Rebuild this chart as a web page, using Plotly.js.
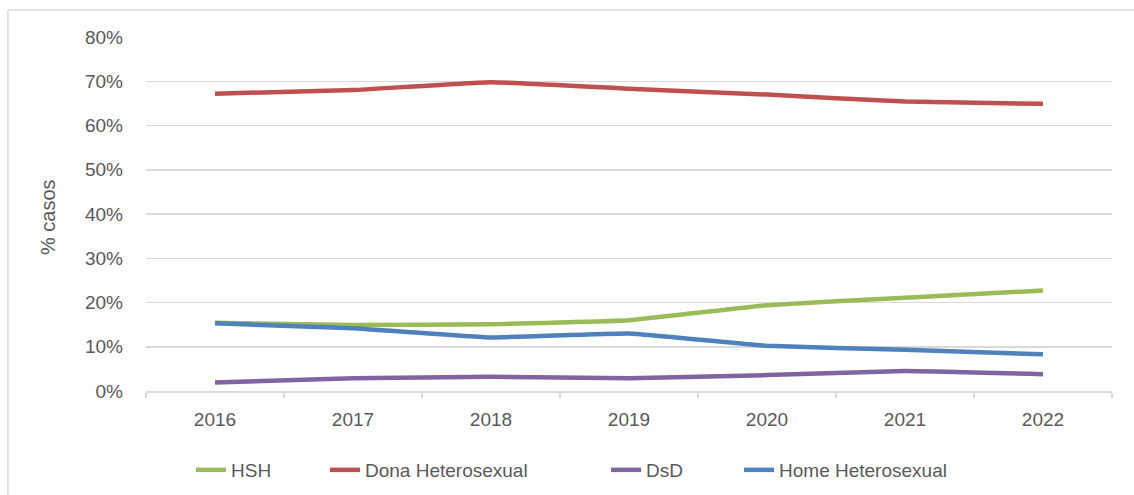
<!DOCTYPE html>
<html>
<head>
<meta charset="utf-8">
<script src="https://cdn.plot.ly/plotly-3.0.1.min.js"></script>
<style>html,body{margin:0;padding:0;background:#fff;} #chart{width:1134px;height:495px;}</style>
</head>
<body>
<div id="chart"></div>
<script>
const years = ['2016','2017','2018','2019','2020','2021','2022'];
const hsh = [15.4, 14.9, 15.1, 16.0, 19.4, 21.1, 22.7];
const donaHetero = [67.2, 68.0, 69.8, 68.3, 67.0, 65.4, 64.9];
const dsd = [1.9, 2.9, 3.2, 2.9, 3.6, 4.5, 3.8];
const homeHetero = [15.3, 14.2, 12.1, 13.0, 10.2, 9.3, 8.3];
const yTicks = [0,10,20,30,40,50,60,70,80];

const mk = (name, y, color, lg) => ({
  type: 'scatter', mode: 'lines', name: name, x: years, y: y, legend: lg,
  line: {color: color, width: 4.5, shape: 'spline', smoothing: 0.3}
});

const data = [
  mk('HSH', hsh, '#9BBB59', 'legend'),
  mk('Dona Heterosexual', donaHetero, '#C0504D', 'legend2'),
  mk('DsD', dsd, '#8064A2', 'legend3'),
  mk('Home Heterosexual', homeHetero, '#4F81BD', 'legend4')
];

const lgFont = {family: 'Liberation Sans, sans-serif', size: 19, color: '#595959'};
const mkLegend = (x) => ({orientation: 'h', x: x, xanchor: 'left', xref: 'paper',
  yref: 'container', y: 0.0505, yanchor: 'middle', font: lgFont, bgcolor: 'rgba(0,0,0,0)'});

const layout = {
  width: 1134, height: 495,
  margin: {l: 146, r: 22, t: 37, b: 104},
  paper_bgcolor: '#fff', plot_bgcolor: '#fff',
  font: {family: 'Liberation Sans, Arial, sans-serif', size: 19, color: '#595959'},
  showlegend: true,
  legend: mkLegend(0.0466),
  legend2: mkLegend(0.1853),
  legend3: mkLegend(0.4763),
  legend4: mkLegend(0.6139),
  xaxis: {type: 'category', categoryorder: 'array', categoryarray: years, automargin: false,
    range: [-0.5, 6.5], showgrid: false, showline: true, linecolor: '#d9d9d9', linewidth: 1.5,
    ticks: 'outside', tickson: 'boundaries', ticklen: 5, tickcolor: '#d9d9d9', tickwidth: 1.5,
    ticklabelstandoff: 11,
    tickfont: {size: 19, color: '#595959'}, zeroline: false, fixedrange: true},
  yaxis: {range: [0, 80], tickvals: yTicks, ticktext: yTicks.map(v => v + '%'), automargin: false,
    showgrid: true, gridcolor: '#d9d9d9', gridwidth: 1.5, zeroline: false, showline: false,
    ticks: '', ticklabelstandoff: 22, tickfont: {size: 19, color: '#595959'}},
  annotations: [{text: '% casos', xref: 'paper', yref: 'paper', x: -0.1014, y: 0.4915,
    xanchor: 'center', yanchor: 'middle', textangle: -90, showarrow: false,
    font: {size: 20, color: '#595959'}}],
  shapes: [
    {type: 'line', xref: 'paper', yref: 'paper', x0: -0.1429, x1: 1.05, y0: 1.0763, y1: 1.0763,
     line: {color: '#d9d9d9', width: 1.5}},
    {type: 'line', xref: 'paper', yref: 'paper', x0: -0.1429, x1: -0.1429, y0: -0.35, y1: 1.0763,
     line: {color: '#d9d9d9', width: 1.5}}
  ]
};

Plotly.newPlot('chart', data, layout, {displayModeBar: false, staticPlot: true});
</script>
</body>
</html>
